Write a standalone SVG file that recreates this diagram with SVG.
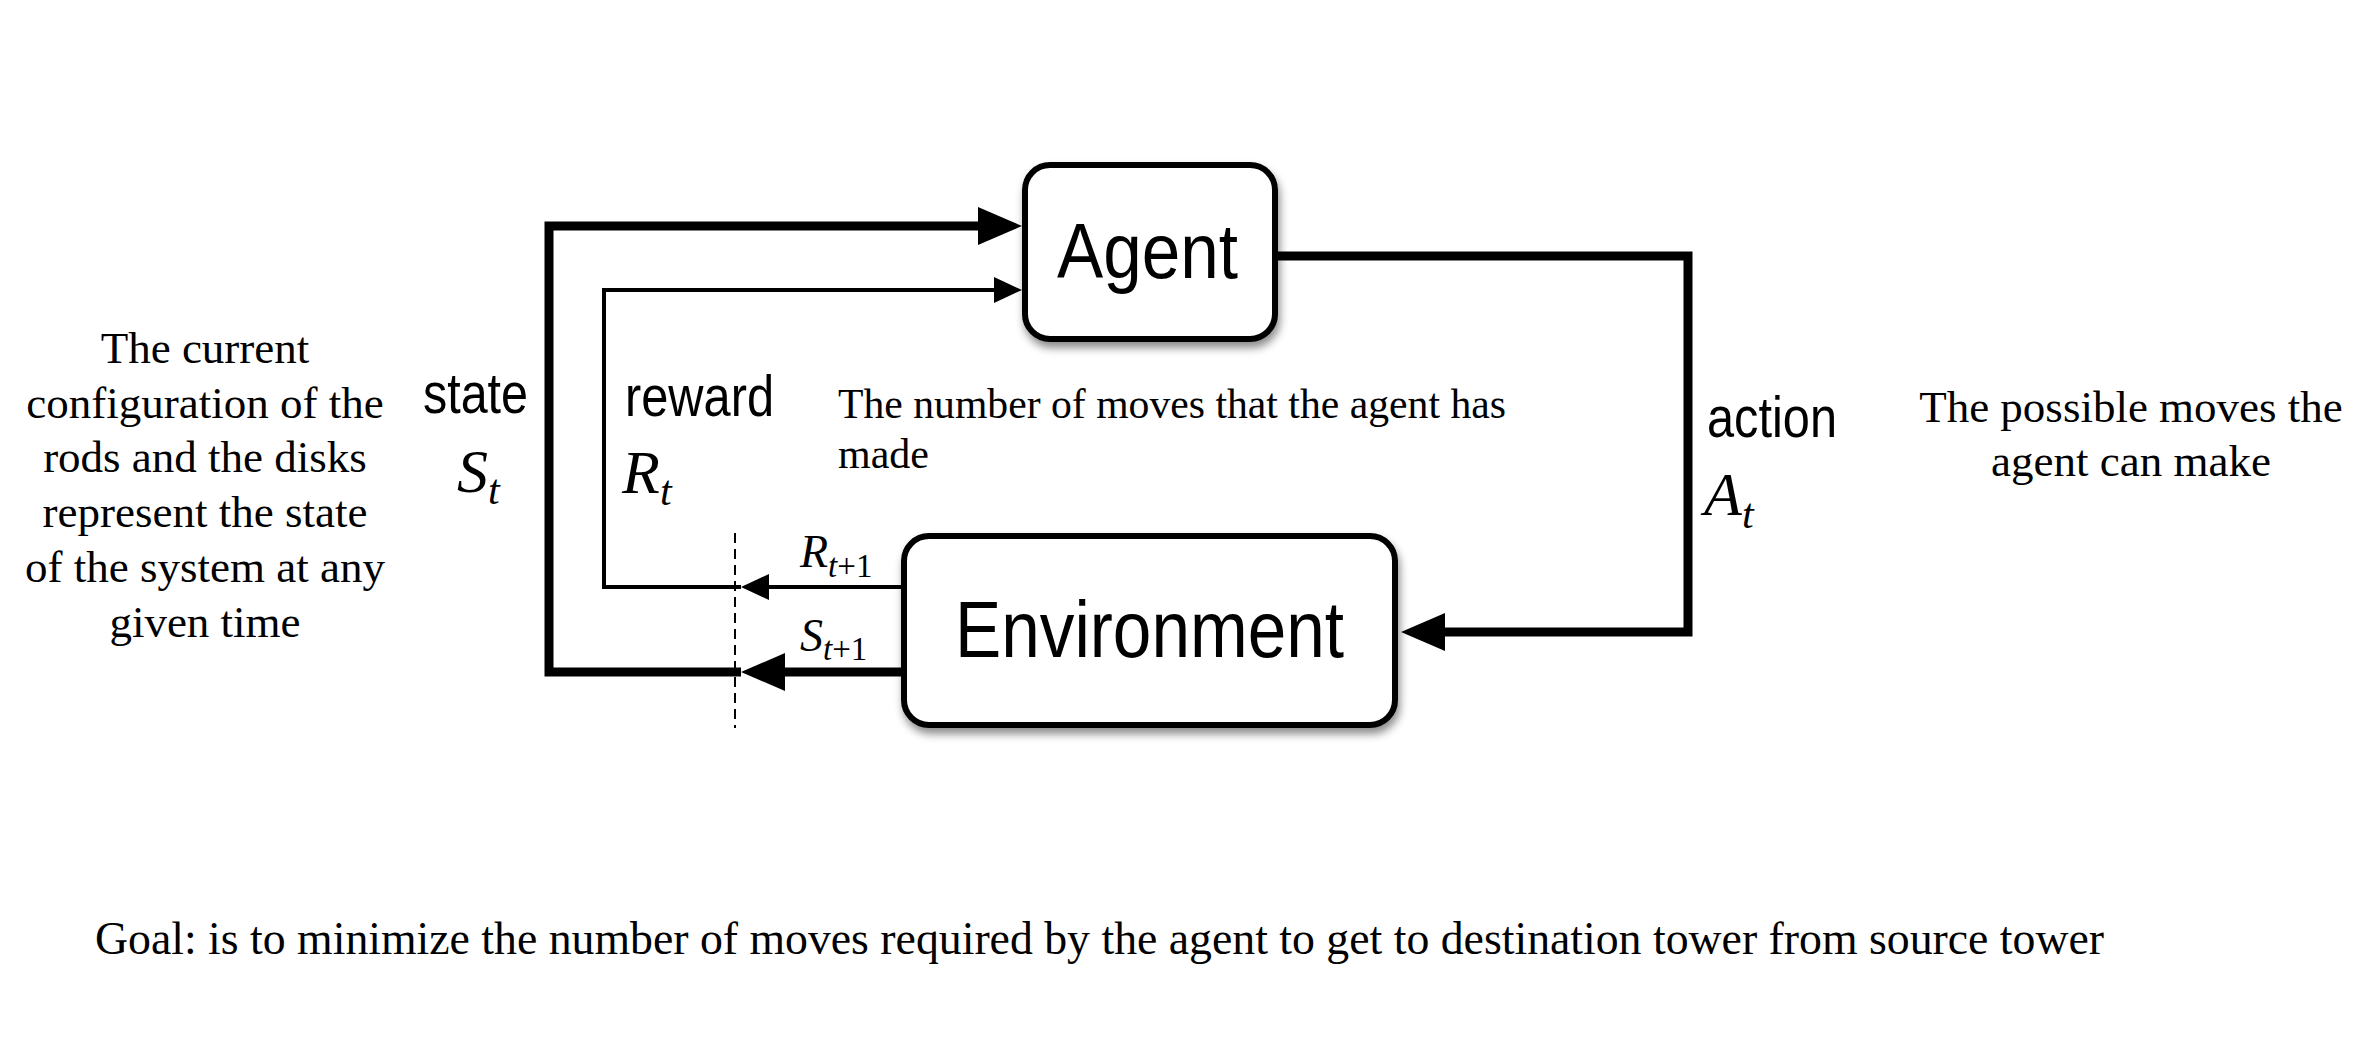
<svg xmlns="http://www.w3.org/2000/svg" width="2362" height="1062" viewBox="0 0 2362 1062">
<defs>
<style>
.box{fill:#fff;stroke:#000;stroke-width:6}
.thick{fill:none;stroke:#000;stroke-width:9;stroke-linejoin:miter}
.thin{fill:none;stroke:#000;stroke-width:4;stroke-linejoin:miter}
.sans{font-family:"Liberation Sans",Arial,sans-serif;fill:#000}
.serif{font-family:"Liberation Serif","Times New Roman",serif;fill:#000}
.mi{font-family:"Liberation Serif","Times New Roman",serif;font-style:italic;fill:#000}
.note{font-family:"Liberation Serif","Times New Roman",serif;font-size:45px;fill:#000}
</style>
<filter id="shadow" x="-10%" y="-10%" width="125%" height="135%">
<feDropShadow dx="2" dy="6" stdDeviation="4" flood-color="#000" flood-opacity="0.45"/>
</filter>
<marker id="headThick" markerUnits="userSpaceOnUse" viewBox="0 0 44 38" markerWidth="44" markerHeight="38" refX="0" refY="19" orient="auto">
<path d="M0,0 L44,19 L0,38 Z" fill="#000"/>
</marker>
<marker id="headThin" markerUnits="userSpaceOnUse" viewBox="0 0 28 26" markerWidth="28" markerHeight="26" refX="0" refY="13" orient="auto">
<path d="M0,0 L28,13 L0,26 Z" fill="#000"/>
</marker>
</defs>
<rect width="2362" height="1062" fill="#fff"/>

<g id="connectors">
<path class="thick" d="M901,672 H785" marker-end="url(#headThick)"/>
<path class="thick" d="M741,672 H549 V226 H978" marker-end="url(#headThick)"/>
<path class="thin" d="M901,587 H769" marker-end="url(#headThin)"/>
<path class="thin" d="M741,587 H604 V290 H994" marker-end="url(#headThin)"/>
<path class="thick" d="M1278,256 H1688 V632 H1445" marker-end="url(#headThick)"/>
<line x1="735" y1="533" x2="735" y2="728" stroke="#000" stroke-width="2" stroke-dasharray="10,6"/>
</g>

<g id="agent">
<rect class="box" x="1025" y="165" width="250" height="174" rx="25" ry="25" filter="url(#shadow)"/>
<text class="sans" x="1057" y="278" font-size="78" textLength="181" lengthAdjust="spacingAndGlyphs">Agent</text>
</g>

<g id="environment">
<rect class="box" x="904" y="536" width="491" height="189" rx="25" ry="25" filter="url(#shadow)"/>
<text class="sans" x="955" y="657" font-size="79" textLength="389" lengthAdjust="spacingAndGlyphs">Environment</text>
</g>

<g id="labels">
<text class="sans" x="423" y="413" font-size="57" textLength="105" lengthAdjust="spacingAndGlyphs">state</text>
<text class="mi" x="457" y="492" font-size="62">S<tspan font-size="42" dy="12">t</tspan></text>
<text class="sans" x="625" y="416" font-size="57" textLength="149" lengthAdjust="spacingAndGlyphs">reward</text>
<text class="mi" x="622" y="493" font-size="62">R<tspan font-size="42" dy="12">t</tspan></text>
<text class="sans" x="1707" y="437" font-size="57" textLength="130" lengthAdjust="spacingAndGlyphs">action</text>
<text class="mi" x="1704" y="515" font-size="62">A<tspan font-size="42" dy="13">t</tspan></text>
<text class="mi" x="800" y="567" font-size="46">R<tspan font-size="33" dy="10">t</tspan><tspan font-size="33" font-style="normal">+1</tspan></text>
<text class="mi" x="800" y="651" font-size="46">S<tspan font-size="33" dy="9">t</tspan><tspan font-size="33" font-style="normal">+1</tspan></text>
</g>

<g id="note-state">
<text class="note" text-anchor="middle" x="205" y="363">The current</text>
<text class="note" text-anchor="middle" x="205" y="418">configuration of the</text>
<text class="note" text-anchor="middle" x="205" y="472">rods and the disks</text>
<text class="note" text-anchor="middle" x="205" y="527">represent the state</text>
<text class="note" text-anchor="middle" x="205" y="582">of the system at any</text>
<text class="note" text-anchor="middle" x="205" y="637">given time</text>
</g>

<g id="note-reward">
<text class="serif" x="838" y="418" font-size="42" textLength="668" lengthAdjust="spacingAndGlyphs">The number of moves that the agent has</text>
<text class="serif" x="838" y="468" font-size="42">made</text>
</g>

<g id="note-action">
<text class="note" text-anchor="middle" x="2131" y="422">The possible moves the</text>
<text class="note" text-anchor="middle" x="2131" y="476">agent can make</text>
</g>

<g id="goal">
<text class="serif" x="95" y="954" font-size="46" textLength="2009" lengthAdjust="spacingAndGlyphs">Goal: is to minimize the number of moves required by the agent to get to destination tower from source tower</text>
</g>
</svg>
